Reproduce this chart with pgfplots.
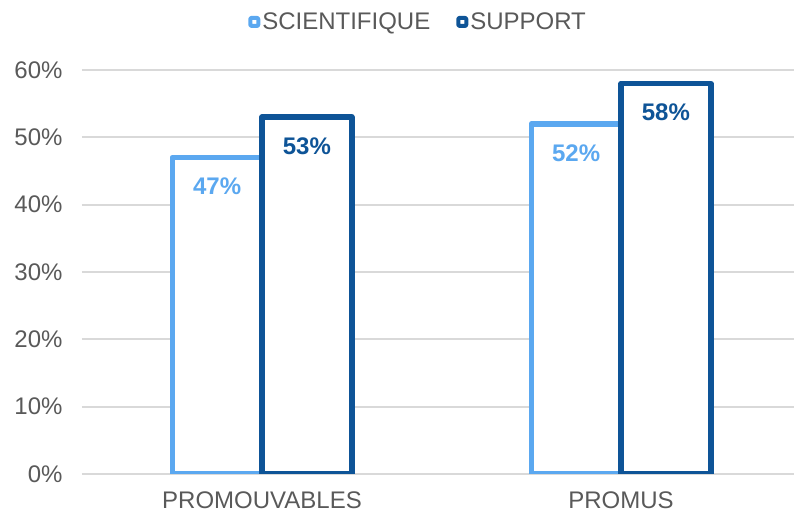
\documentclass[border=0pt]{standalone}
\usepackage{fontspec}
\setmainfont{Liberation Sans}
\usepackage{pgfplots}
\pgfplotsset{compat=1.18}
\definecolor{sci}{HTML}{5BA8F0}
\definecolor{sup}{HTML}{0E5497}
\definecolor{txt}{HTML}{595959}
\definecolor{grd}{HTML}{D9D9D9}
\newcommand{\bigfont}{\fontsize{24}{28}\selectfont}

\begin{document}
\begin{tikzpicture}
	\begin{axis}[
		name=ax,
		scale only axis,
		width=712pt, height=404pt,
		xmin=-0.5014, xmax=1.4819,
		ymin=0, ymax=60,
		ytick distance=10,
		xtick={0,1},
		xticklabels={PROMOUVABLES, PROMUS},
		yticklabel={\pgfmathprintnumber{\tick}\%},
		/pgf/number format/assume math mode=true,
		axis line style={draw=none},
		major tick length=0pt,
		ymajorgrids=true,
		grid style={grd, line width=2pt},
		tick label style={font=\bigfont, text=txt},
		x tick label style={yshift=-14pt},
		y tick label style={xshift=-16pt},
		ybar=0pt,
		bar width=0.25,
		nodes near coords={\pgfmathprintnumber{\pgfplotspointmeta}\%},
		every node near coord/.append style={font=\bigfont\bfseries, anchor=north, inner sep=0pt, yshift=-18pt},
		legend columns=2,
		legend style={at={(0.472,1.119)}, anchor=center, draw=none, fill=none,
			font=\bigfont, text=txt, inner sep=0pt,
			/tikz/every even column/.append style={column sep=24pt}},
		legend image code/.code={
			\draw[#1, fill=white, line width=4pt, rounded corners=1pt] (0pt,-4pt) rectangle (8pt,4pt);
		},
	]
		% scientifique
		\addplot[draw=sci, fill=white, line width=5.5pt, line join=round, bar shift=-0.125,
			every node near coord/.append style={text=sci}]
			coordinates {(0,47) (1,52)};

		% support
		\addplot[draw=sup, fill=white, line width=5.5pt, line join=round, bar shift=0.125,
			every node near coord/.append style={text=sup}]
			coordinates {(0,53) (1,58)};

		\legend{SCIENTIFIQUE, SUPPORT}
	\end{axis}
	\pgfresetboundingbox
	\path[use as bounding box] ([xshift=-82pt,yshift=-39pt]ax.south west) rectangle ([yshift=70pt]ax.north east);
\end{tikzpicture}
\end{document}
